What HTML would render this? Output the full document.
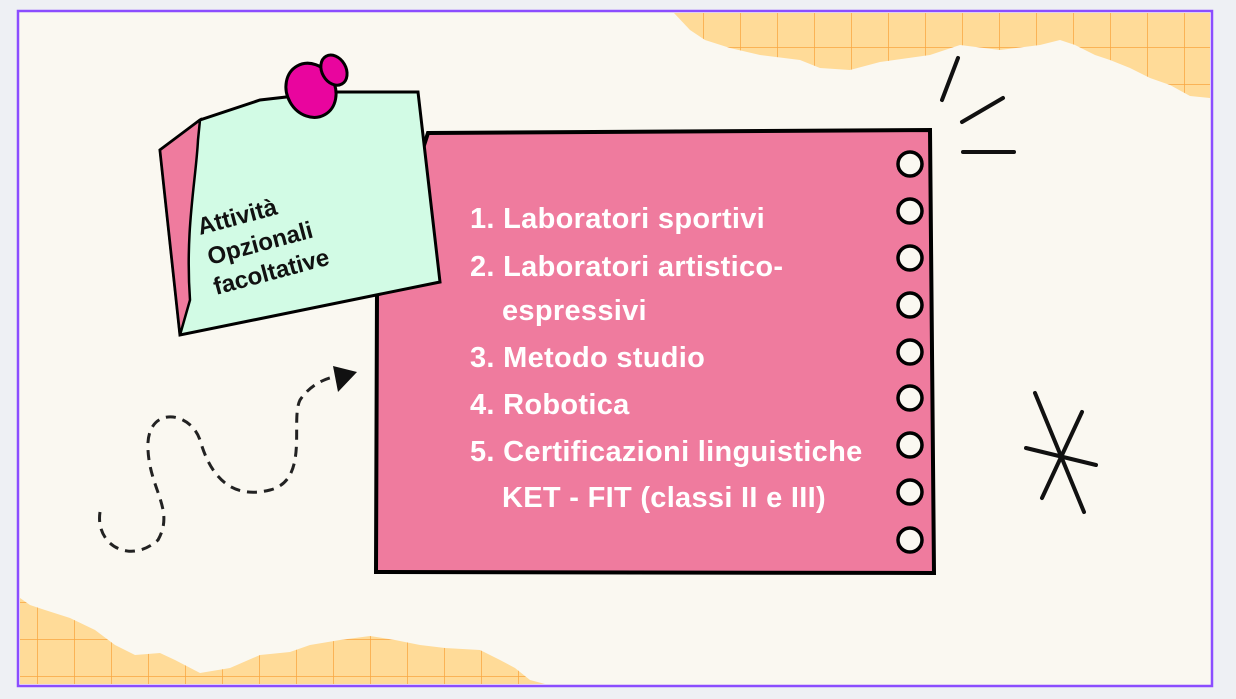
<!DOCTYPE html>
<html><head><meta charset="utf-8"><style>
html,body{margin:0;padding:0;width:1236px;height:699px;background:#eef0f4;overflow:hidden}
svg{position:absolute;left:0;top:0}
.t{font-family:"Liberation Sans Narrow","Liberation Sans",sans-serif;font-weight:bold;fill:#fff;font-size:29px;letter-spacing:0.3px}
.s{font-family:"Liberation Sans Narrow","Liberation Sans",sans-serif;font-weight:bold;fill:#111;font-size:24px}
</style></head><body>
<svg width="1236" height="699" viewBox="0 0 1236 699">
<defs>
<pattern id="g" width="37" height="37" patternUnits="userSpaceOnUse" x="0" y="10">
<rect width="37" height="37" fill="#ffdb98"/>
<path d="M0 0H37M0 0V37" stroke="#f9a640" stroke-width="1.5"/>
</pattern>
</defs>
<rect x="18" y="11" width="1194" height="675" fill="#faf8f1" stroke="#8b4dff" stroke-width="2.5"/>
<path d="M674 13 H1210 V98 L1190 96 L1170 85 L1150 78 L1130 68 L1110 60 L1095 55 L1075 45 L1060 40 L1040 45 L1000 50 L960 45 L930 55 L880 62 L850 70 L820 68 L800 60 L760 55 L730 48 L705 40 L690 30 Z" fill="url(#g)"/>
<path d="M20 598 L30 605 L45 610 L70 618 L95 630 L115 645 L135 655 L160 653 L175 660 L200 673 L230 668 L260 655 L290 652 L310 645 L340 640 L370 636 L395 640 L420 645 L445 648 L480 650 L500 660 L515 668 L530 680 L545 684 L20 684 Z" fill="url(#g)"/>
<!-- notebook -->
<path d="M428 133 L930 130 L934 573 L376 572 L377 290 Z" fill="#ef7b9e" stroke="#000" stroke-width="4"/>
<g fill="#faf8f1" stroke="#000" stroke-width="3.5">
<circle cx="910" cy="164" r="12"/><circle cx="910" cy="211" r="12"/><circle cx="910" cy="258" r="12"/>
<circle cx="910" cy="305" r="12"/><circle cx="910" cy="352" r="12"/><circle cx="910" cy="398" r="12"/>
<circle cx="910" cy="445" r="12"/><circle cx="910" cy="492" r="12"/><circle cx="910" cy="540" r="12"/>
</g>
<!-- sticky note -->
<path d="M160 150 L200 120 L260 100 L330 92 L418 92 L440 282 L180 335 Z" fill="#d2fbe5" stroke="#000" stroke-width="3"/>
<path d="M160 150 L200 120 L198 140 C196 180 185 230 190 300 L180 335 Z" fill="#ef7b9e" stroke="#000" stroke-width="2.5"/>
<g transform="translate(275 88) rotate(-30)">
<ellipse cx="30" cy="20" rx="24" ry="28" fill="#e9059e" stroke="#000" stroke-width="3"/>
<ellipse cx="60" cy="14" rx="12" ry="16" fill="#e9059e" stroke="#000" stroke-width="3"/>
</g>
<text class="s" transform="translate(200 235) rotate(-15)">Attività</text>
<text class="s" transform="translate(210 265) rotate(-15)">Opzionali</text>
<text class="s" transform="translate(216 295) rotate(-15)">facoltative</text>
<!-- list -->
<text class="t" x="470" y="228">1. Laboratori sportivi</text>
<text class="t" x="470" y="276">2. Laboratori artistico-</text>
<text class="t" x="502" y="320">espressivi</text>
<text class="t" x="470" y="367">3. Metodo studio</text>
<text class="t" x="470" y="414">4. Robotica</text>
<text class="t" x="470" y="461">5. Certificazioni linguistiche</text>
<text class="t" x="502" y="507">KET - FIT (classi II e III)</text>
<!-- dashed arrow -->
<path d="M100 512 C95 545 130 565 158 540 C175 510 150 490 148 450 C145 405 190 410 200 440 C210 475 230 500 270 490 C310 480 290 420 300 400 C310 385 325 378 338 376" fill="none" stroke="#222" stroke-width="3" stroke-dasharray="10 7"/>
<path d="M333 366 L357 372 L338 392 Z" fill="#111"/>
<!-- rays -->
<g stroke="#111" stroke-width="4" stroke-linecap="round">
<path d="M958 58 L942 100"/><path d="M1003 98 L962 122"/><path d="M963 152 L1014 152"/>
<path d="M1035 393 L1084 512"/><path d="M1082 412 L1042 498"/><path d="M1026 448 L1096 465"/>
</g>
</svg>
</body></html>
